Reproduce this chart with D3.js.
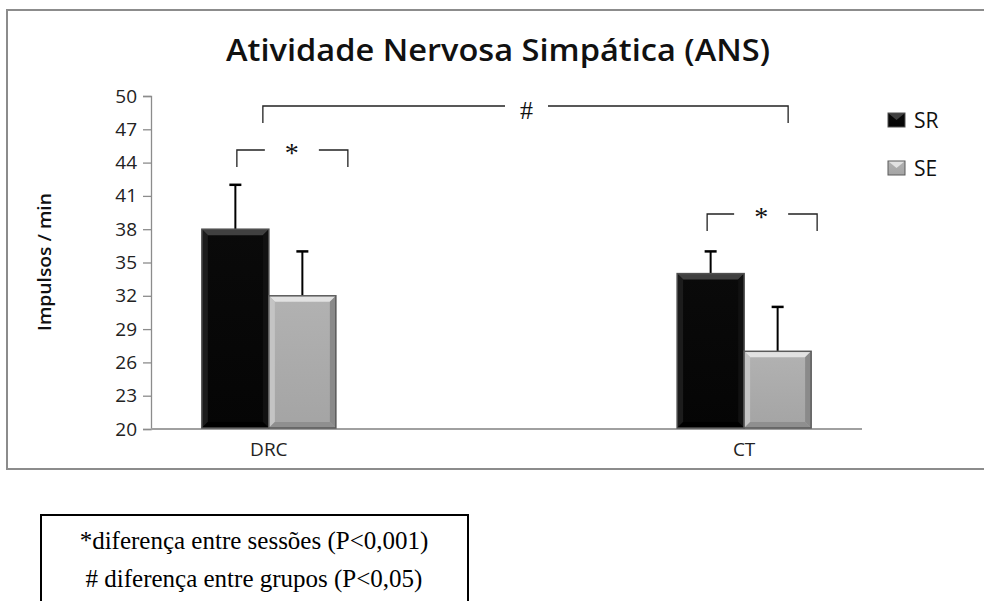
<!DOCTYPE html>
<html>
<head>
<meta charset="utf-8">
<script src="https://cdn.jsdelivr.net/npm/d3@7"></script>
<style>
	body { margin: 0; background: #fff; }
	svg { display: block; }
</style>
</head>
<body>
<svg id="chart" width="984" height="601"></svg>
<script>
// chart values
const categories = ["DRC", "CT"];
const series = ["SR", "SE"];
const srValues = [38, 34];
const seValues = [32, 27];
const srErrors = [4, 2];
const seErrors = [4, 4];
const yTicks = [20, 23, 26, 29, 32, 35, 38, 41, 44, 47, 50];
const noteLines = ["*diferença entre sessões (P<0,001)", "# diferença entre grupos (P<0,05)"];

const svg = d3.select("#chart");
const sans = "'Open Sans', sans-serif";
const serif = "'Liberation Serif', serif";

// outer chart frame
svg.append("rect")
	.attr("x", 7).attr("y", 10)
	.attr("width", 990).attr("height", 459)
	.attr("fill", "#fff")
	.attr("stroke", "#8c8c8c")
	.attr("stroke-width", 2);

svg.append("text")
	.attr("x", 498).attr("y", 61)
	.attr("text-anchor", "middle")
	.attr("font-family", sans)
	.attr("font-weight", 600)
	.attr("font-size", 30)
	.attr("textLength", 544)
	.attr("lengthAdjust", "spacingAndGlyphs")
	.attr("fill", "#111")
	.text("Atividade Nervosa Simpática (ANS)");

const x = d3.scalePoint().domain(categories).range([151, 862]).padding(0.248);
const xs = d3.scaleBand().domain(series).range([-67, 67]);
const y = d3.scaleLinear().domain([20, 50]).range([429, 96]);

// y axis
const yAxis = svg.append("g")
	.attr("transform", "translate(151,0)")
	.call(d3.axisLeft(y).tickValues(yTicks).tickSize(8).tickPadding(6));
yAxis.select(".domain").attr("stroke", "#8c8c8c").attr("stroke-width", 1.3);
yAxis.selectAll(".tick line").attr("stroke", "#8c8c8c").attr("stroke-width", 1.3);
yAxis.selectAll(".tick text")
	.attr("font-family", sans)
	.attr("font-size", 19)
	.attr("fill", "#222");

svg.append("text")
	.attr("transform", "translate(51,262) rotate(-90)")
	.attr("text-anchor", "middle")
	.attr("font-family", sans)
	.attr("font-weight", 600)
	.attr("font-size", 18)
	.attr("textLength", 138)
	.attr("lengthAdjust", "spacingAndGlyphs")
	.attr("fill", "#111")
	.text("Impulsos / min");

// x axis line + labels
svg.append("line")
	.attr("x1", 151).attr("x2", 862)
	.attr("y1", y(20)).attr("y2", y(20))
	.attr("stroke", "#a0a0a0").attr("stroke-width", 2);

svg.selectAll(".xlab")
	.data(categories)
	.join("text")
	.attr("class", "xlab")
	.attr("x", d => x(d))
	.attr("y", 456)
	.attr("text-anchor", "middle")
	.attr("font-family", sans)
	.attr("font-size", 19)
	.attr("fill", "#222")
	.text(d => d);

// gradients for the bevelled bars
const defs = svg.append("defs");
function vGrad(id, stops) {
	const g = defs.append("linearGradient").attr("id", id)
		.attr("x1", "0%").attr("y1", "0%").attr("x2", "0%").attr("y2", "100%");
	stops.forEach(s => g.append("stop").attr("offset", s[0]).attr("stop-color", s[1]));
}
vGrad("srBody", [["0%", "#0a0a0a"], ["100%", "#050505"]]);
vGrad("seBody", [["0%", "#b2b2b2"], ["100%", "#a4a4a4"]]);

const style = {
	SR: { body: "url(#srBody)", top: "#404040", left: "#1c1c1c", right: "#111", bottom: "#000", edge: "#505050" },
	SE: { body: "url(#seBody)", top: "#e2e2e2", left: "#c4c4c4", right: "#8a8a8a", bottom: "#8f8f8f", edge: "#5a5a5a" }
};

const bars = [];
categories.forEach((c, i) => {
	bars.push({ cat: c, s: "SR", v: srValues[i], e: srErrors[i] });
	bars.push({ cat: c, s: "SE", v: seValues[i], e: seErrors[i] });
});

function bevelBar(g, x0, x1, y0, y1, st) {
	const b = 6;
	g.append("rect").attr("x", x0).attr("y", y0).attr("width", x1 - x0).attr("height", y1 - y0).attr("fill", st.body);
	const poly = pts => g.append("polygon").attr("points", pts.map(p => p.join(",")).join(" "));
	poly([[x0, y0], [x1, y0], [x1 - b, y0 + b], [x0 + b, y0 + b]]).attr("fill", st.top);
	poly([[x0, y0], [x0 + b, y0 + b], [x0 + b, y1 - b], [x0, y1]]).attr("fill", st.left);
	poly([[x1, y0], [x1, y1], [x1 - b, y1 - b], [x1 - b, y0 + b]]).attr("fill", st.right);
	poly([[x0, y1], [x0 + b, y1 - b], [x1 - b, y1 - b], [x1, y1]]).attr("fill", st.bottom);
	g.append("rect").attr("x", x0).attr("y", y0).attr("width", x1 - x0).attr("height", y1 - y0)
		.attr("fill", "none").attr("stroke", st.edge).attr("stroke-width", 1.5);
}

const barG = svg.append("g");
bars.forEach(d => {
	const x0 = x(d.cat) + xs(d.s);
	const x1 = x0 + xs.bandwidth();
	const cx = (x0 + x1) / 2;
	// error bar first, drawn from the bar top upward
	barG.append("line").attr("x1", cx).attr("x2", cx)
		.attr("y1", y(d.v)).attr("y2", y(d.v + d.e))
		.attr("stroke", "#000").attr("stroke-width", 2);
	barG.append("line").attr("x1", cx - 6).attr("x2", cx + 6)
		.attr("y1", y(d.v + d.e)).attr("y2", y(d.v + d.e))
		.attr("stroke", "#000").attr("stroke-width", 2.5);
	bevelBar(barG, x0, x1, y(d.v), y(20) - 1, style[d.s]);
});

// legend
const leg = svg.append("g");
series.forEach((s, i) => {
	const ly = 113 + i * 48;
	bevelBarSmall(leg, 888, ly, style[s]);
	leg.append("text")
		.attr("x", 914).attr("y", ly + 7)
		.attr("dy", "0.36em")
		.attr("font-family", sans)
		.attr("font-size", 21)
		.attr("fill", "#111")
		.text(s);
});
function bevelBarSmall(g, lx, ly, st) {
	const w = 17, b = 4;
	g.append("rect").attr("x", lx).attr("y", ly).attr("width", w).attr("height", 14).attr("fill", st.body);
	g.append("polygon").attr("points", [[lx, ly], [lx + w, ly], [lx + w / 2, ly + 7]].map(p => p.join(",")).join(" ")).attr("fill", st.top);
	g.append("rect").attr("x", lx).attr("y", ly).attr("width", w).attr("height", 14).attr("fill", "none").attr("stroke", st.edge).attr("stroke-width", 1);
}

// significance brackets
function bracket(xl, xr, yt, drop, label, gapL, gapR, size, base) {
	const g = svg.append("g").attr("fill", "none").attr("stroke", "#222").attr("stroke-width", 1.3);
	g.append("path").attr("d", `M${xl},${yt + drop}V${yt}H${gapL}`);
	g.append("path").attr("d", `M${gapR},${yt}H${xr}V${yt + drop}`);
	svg.append("text")
		.attr("x", (gapL + gapR) / 2).attr("y", yt + base)
		.attr("text-anchor", "middle")
		.attr("font-family", serif)
		.attr("font-size", size)
		.attr("fill", "#111")
		.text(label);
}
const drcMid = x("DRC"), ctMid = x("CT");
bracket(drcMid - 6, ctMid + 44, 106, 17, "#", 505, 548, 26, 13);
bracket(drcMid - 32, drcMid + 79, 150, 17, "*", drcMid - 4, drcMid + 50, 28, 12);
bracket(ctMid - 37, ctMid + 73, 214, 17, "*", ctMid - 10, ctMid + 44, 28, 12);

// footnote box
svg.append("rect")
	.attr("x", 41).attr("y", 515)
	.attr("width", 427).attr("height", 120)
	.attr("fill", "none")
	.attr("stroke", "#000")
	.attr("stroke-width", 2);
svg.selectAll(".note")
	.data(noteLines)
	.join("text")
	.attr("class", "note")
	.attr("x", 254)
	.attr("y", (d, i) => 549 + i * 38)
	.attr("text-anchor", "middle")
	.attr("font-family", serif)
	.attr("font-size", 25)
	.attr("fill", "#000")
	.text(d => d);
</script>
</body>
</html>
